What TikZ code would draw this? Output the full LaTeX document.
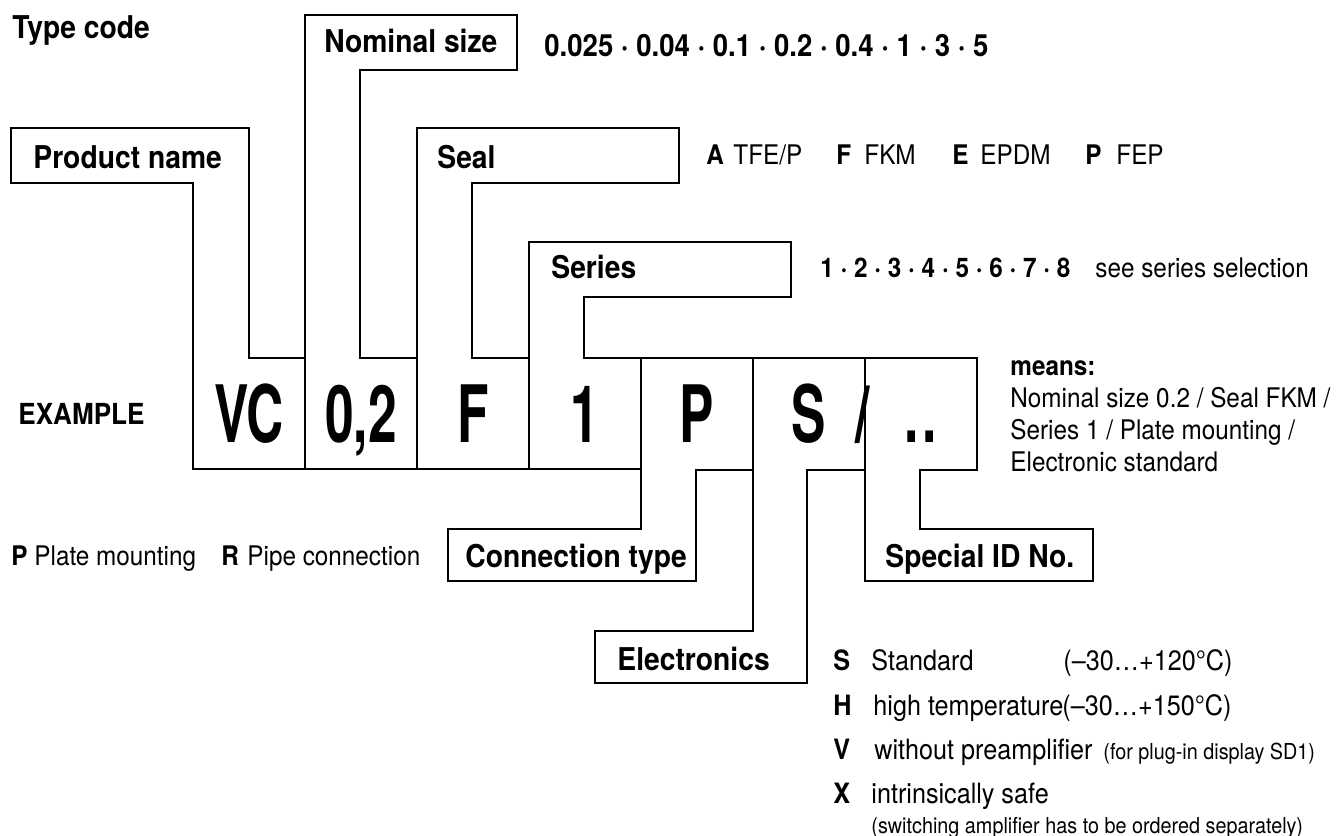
\documentclass[tikz,border=0pt]{standalone}
\usepackage{fontspec}
\setmainfont{TeX Gyre Heros}[FakeStretch=0.9]
\newfontfamily\codefont{TeX Gyre Heros}[FakeStretch=0.65]

\begin{document}
\begin{tikzpicture}[x=0.5pt, y=-0.5pt,
  contorno/.style={line width=0.9pt, draw=black, line join=miter, line cap=rect},
  rotulo/.style={font=\fontsize{15.7}{18}\selectfont\bfseries, inner sep=0pt, anchor=base west},
  texto/.style={font=\fontsize{13.5}{16}\selectfont, inner sep=0pt, anchor=base west},
  lista/.style={font=\fontsize{14}{17}\selectfont, inner sep=0pt, anchor=base west},
  chico/.style={font=\fontsize{11}{13}\selectfont, inner sep=0pt, anchor=base west},
  codigo/.style={font=\codefont\fontsize{39.6}{44}\selectfont\bfseries, inner sep=0pt, anchor=base}]
  \useasboundingbox (0,0) rectangle (1337,835);

  % Rotulos superiores con su tira hasta la casilla
  \draw[contorno] (193,469) -- (193,183) -- (11,183) -- (11,128) --
  (249,128) -- (249,358) -- (305,358); % Product name
  \draw[contorno] (305,469) -- (305,15) -- (517,15) -- (517,70) --
  (360,70) -- (360,358) -- (417,358); % Nominal size
  \draw[contorno] (417,469) -- (417,128) -- (679,128) -- (679,183) --
  (472,183) -- (472,358) -- (529,358); % Seal
  \draw[contorno] (529,469) -- (529,242) -- (791,242) -- (791,297) --
  (584,297) -- (584,358) -- (977,358) -- (977,470) -- (920,470); % Series
  \draw[contorno] (193,469) -- (641,469); % Borde inferior
  % Rotulos inferiores
  \draw[contorno] (641,358) -- (641,529) -- (448,529) -- (448,581) --
  (696,581) -- (696,470) -- (753,470); % Connection type
  \draw[contorno] (753,358) -- (753,631) -- (595,631) -- (595,683) --
  (807,683) -- (807,470) -- (865,470); % Electronics
  \draw[contorno] (865,358) -- (865,581) -- (1093,581) -- (1093,529) --
  (920,529) -- (920,470); % Special ID No.

  \node[rotulo] (tipo) at (12,38) {Type code};
  \node[rotulo] (nomtxt) at (324,52) {Nominal size};
  \node[rotulo] (prodtxt) at (33,168) {Product name};
  \node[rotulo] (sealtxt) at (437,168) {Seal};
  \node[rotulo] (sertxt) at (551,278) {Series};
  \node[rotulo] (contxt) at (465,567) {Connection type};
  \node[rotulo] (electxt) at (617,670) {Electronics};
  \node[rotulo] (esptxt) at (885,567) {Special ID No.};
  \node[rotulo, font=\fontsize{14.5}{17}\selectfont\bfseries] (ejemplo) at (18,424) {EXAMPLE};

  % Casillas del codigo
  \node[codigo] (cvc) at (249,442) {VC};
  \node[codigo] (cnom) at (361,442) {0,2};
  \node[codigo] (cseal) at (473,442) {F};
  \node[codigo] (cser) at (585,442) {1};
  \node[codigo] (ccon) at (697,442) {P};
  \node[codigo] (celec) at (809,442) {S};
  \node[codigo] (cbarra) at (863,442) {/};
  \node[codigo] (cesp) at (921,442) {.\hspace{2pt}.};

  % Opciones
  \node[texto, font=\fontsize{15.3}{18}\selectfont\bfseries] (tamanos) at (544,56)
  {0.025 · 0.04 · 0.1 · 0.2 · 0.4 · 1 · 3 · 5};
  \node[texto] (sa) at (706,164) {\textbf{A}};
  \node[texto] (sa2) at (733,164) {TFE/P};
  \node[texto] (sf) at (836,164) {\textbf{F}};
  \node[texto] (sf2) at (864,164) {FKM};
  \node[texto] (se) at (952,164) {\textbf{E}};
  \node[texto] (se2) at (980,164) {EPDM};
  \node[texto] (sp) at (1085,164) {\textbf{P}};
  \node[texto] (sp2) at (1116,164) {FEP};
  \node[texto] (serie) at (820,277) {\textbf{1 · 2 · 3 · 4 · 5 · 6 · 7 · 8}};
  \node[texto] (serie2) at (1095,277) {see series selection};

  \node[texto] (means) at (1010,375) {\textbf{means:}};
  \node[texto] (means1) at (1010,407) {Nominal size 0.2 / Seal FKM /};
  \node[texto] (means2) at (1010,439) {Series 1 / Plate mounting /};
  \node[texto] (means3) at (1010,471) {Electronic standard};

  \node[texto] (cp) at (11,565) {\textbf{P}};
  \node[texto] (cp2) at (34,565) {Plate mounting};
  \node[texto] (cr) at (221,565) {\textbf{R}};
  \node[texto] (cr2) at (247,565) {Pipe connection};

  \node[lista] (es) at (833,670) {\textbf{S}};
  \node[lista] (es2) at (871,670) {Standard};
  \node[lista] (es3) at (1063,670) {(–30…+120°C)};
  \node[lista] (eh) at (833,715) {\textbf{H}};
  \node[lista] (eh2) at (873,715) {high temperature};
  \node[lista] (eh3) at (1062,715) {(–30…+150°C)};
  \node[lista] (ev) at (833,759) {\textbf{V}};
  \node[lista] (ev2) at (874,759) {without preamplifier};
  \node[chico] (ev3) at (1103,759) {(for plug-in display SD1)};
  \node[lista] (ex) at (833,803) {\textbf{X}};
  \node[lista] (ex2) at (871,803) {intrinsically safe};
  \node[chico] (ex3) at (871,833) {(switching amplifier has to be ordered separately)};
\end{tikzpicture}
\end{document}
